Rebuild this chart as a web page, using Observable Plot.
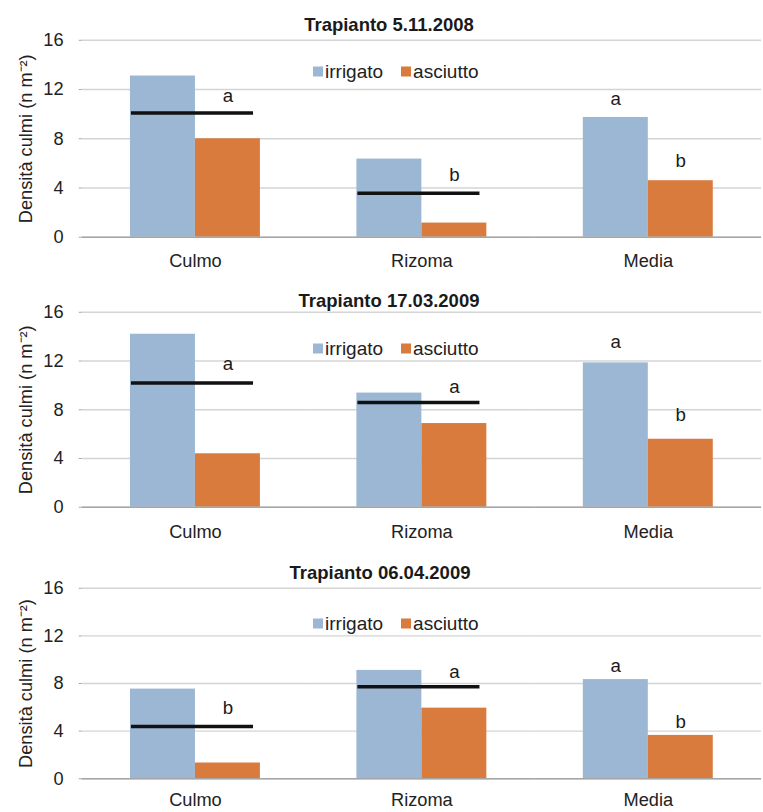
<!DOCTYPE html>
<html><head><meta charset="utf-8">
<script src="https://cdn.jsdelivr.net/npm/d3@7"></script>
<script src="https://cdn.jsdelivr.net/npm/@observablehq/plot@0.6"></script>
<style>
body{margin:0;background:#fff;font-family:"Liberation Sans",Arial,sans-serif;}
#root{position:relative;width:763px;height:812px;overflow:hidden;background:#fff;}
.ptitle{position:absolute;font-weight:bold;font-size:18.5px;color:#1a1a1a;transform:translate(-50%,-50%);white-space:nowrap;line-height:1}
.pwrap{position:absolute;left:0}
.lwrap{position:absolute;transform:translateY(-50%)}
.lg-swatch{margin-right:18px !important;}
.lg-swatch > svg{margin-right:2px !important;}
</style></head><body><div id="root"></div>
<script>
// ---- data ----
const categories = ["Culmo", "Rizoma", "Media"];
const series = ["irrigato", "asciutto"];
const seriesColors = ["#9bb7d4", "#d97b3c"];
const yTicks = [0, 4, 8, 12, 16];
const yLabel = "Densità culmi (n m⁻²)";
const titles = ["Trapianto 5.11.2008", "Trapianto 17.03.2009", "Trapianto 06.04.2009"];

const irrigato1 = [13.1, 6.35, 9.73];
const asciutto1 = [8.0, 1.15, 4.59];
const irrigato2 = [14.2, 9.37, 11.85];
const asciutto2 = [4.39, 6.87, 5.58];
const irrigato3 = [7.53, 9.1, 8.33];
const asciutto3 = [1.32, 5.93, 3.64];

const lineCats = ["Culmo", "Rizoma"];
const lineValues1 = [10.1, 3.57];
const lineValues2 = [10.2, 8.59];
const lineValues3 = [4.38, 7.72];

const letterCats = ["Culmo", "Rizoma", "Media", "Media"];
const letterSeries = ["asciutto", "asciutto", "irrigato", "asciutto"];
const letterText1 = ["a", "b", "a", "b"];
const letterY1 = [11.44, 5.04, 11.2, 6.16];
const letterText2 = ["a", "a", "a", "b"];
const letterY2 = [11.72, 9.86, 13.6, 7.54];
const letterText3 = ["b", "a", "a", "b"];
const letterY3 = [5.93, 8.97, 9.51, 4.75];

// ---- build tables ----
const panelsData = [
  [irrigato1, asciutto1, lineValues1, letterText1, letterY1],
  [irrigato2, asciutto2, lineValues2, letterText2, letterY2],
  [irrigato3, asciutto3, lineValues3, letterText3, letterY3]
];

// layout (pixels)
const plotTop = [39.5, 312, 588.3];
const plotH = [200, 198, 193.4];
const titleY = [25, 301, 573];
const titleX = [389, 389, 380];
const legendY = [71.7, 348, 623.3];
const catPad = [17, 18, 14.5];
const mt = 12, mb = 45;

const root = document.getElementById("root");

panelsData.forEach(([irr, asc, lines, lt, ly], p) => {
  const bars = [];
  categories.forEach((c, i) => {
    bars.push({cat: c, series: series[0], value: irr[i]});
    bars.push({cat: c, series: series[1], value: asc[i]});
  });
  const lineRows = lineCats.map((c, i) => ({cat: c, value: lines[i]}));
  const letterRows = letterCats.map((c, i) => ({cat: c, series: letterSeries[i], y: ly[i], t: lt[i]}));

  const chart = Plot.plot({
    width: 775,
    height: mt + plotH[p] + mb,
    marginTop: mt,
    marginBottom: mb,
    marginLeft: 82,
    marginRight: 2,
    style: {fontFamily: "Liberation Sans, Arial, sans-serif", fontSize: "18.5px", color: "#222", background: "transparent", overflow: "visible"},
    fx: {domain: categories, padding: 0, label: null, axis: "bottom", tickSize: 0, tickPadding: catPad[p]},
    x: {domain: series, paddingInner: 0, paddingOuter: 0.742, axis: null},
    y: {domain: [0, 16], axis: null},
    color: {domain: series, range: seriesColors},
    marks: [
      Plot.gridY(yTicks, {stroke: "#d4d4d4", strokeOpacity: 1, strokeWidth: 1.4}),
      Plot.barY(bars, {fx: "cat", x: "series", y: "value", fill: "series"}),
      Plot.ruleY([0], {stroke: "#a6a6a6", strokeWidth: 1.6}),
      Plot.ruleY(lineRows, {fx: "cat", y: "value", stroke: "#111", strokeWidth: 3.5, insetLeft: 50, insetRight: 56}),
      Plot.text(letterRows, {fx: "cat", x: "series", y: "y", text: "t", fontSize: 19, fill: "#1a1a1a"}),
      Plot.axisY({ticks: yTicks, anchor: "left", facetAnchor: "left", line: true, stroke: "#a6a6a6", fill: "#222",
        tickSize: 3, tickPadding: 16, label: yLabel, labelAnchor: "center", labelArrow: "none", labelOffset: 64})
    ]
  });
  const wrap = document.createElement("div");
  wrap.className = "pwrap";
  wrap.style.top = (plotTop[p] - mt) + "px";
  wrap.appendChild(chart);
  root.appendChild(wrap);

  const t = document.createElement("div");
  t.className = "ptitle";
  t.style.left = titleX[p] + "px";
  t.style.top = titleY[p] + "px";
  t.textContent = titles[p];
  root.appendChild(t);

  const lg = Plot.legend({
    color: {domain: series, range: seriesColors},
    legend: "swatches",
    swatchSize: 10,
    className: "lg",
    style: {fontFamily: "Liberation Sans, Arial, sans-serif", fontSize: "19px", color: "#222", margin: 0}
  });
  const lw = document.createElement("div");
  lw.className = "lwrap";
  lw.style.left = "313px";
  lw.style.top = legendY[p] + "px";
  lw.appendChild(lg);
  root.appendChild(lw);
});
</script>
</body></html>
